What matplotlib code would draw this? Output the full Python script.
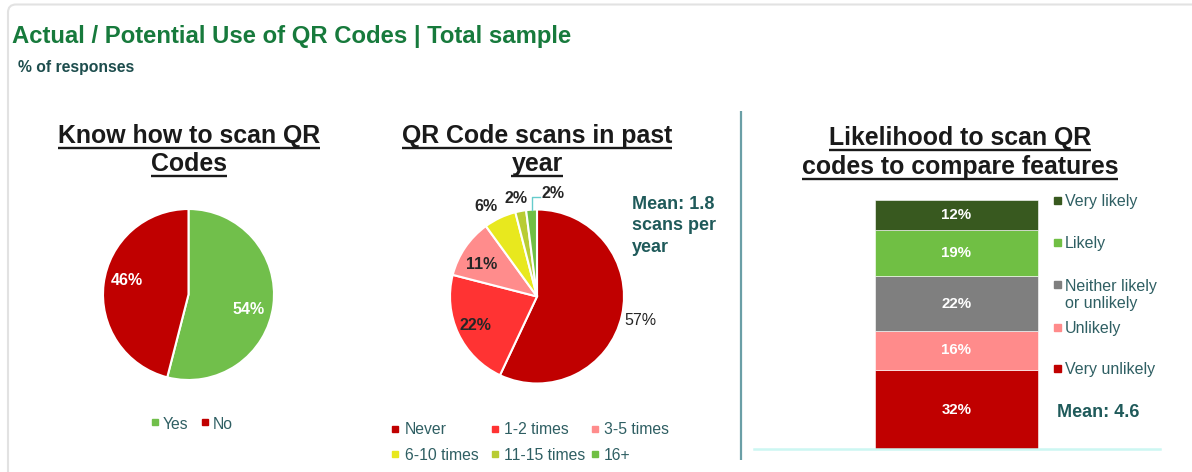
import matplotlib
matplotlib.use("Agg")
import matplotlib.pyplot as plt
from matplotlib.patches import FancyBboxPatch, Rectangle

plt.rcParams['font.family'] = ['Liberation Sans', 'DejaVu Sans']

# ---------------- data ----------------
know_labels = ["Yes", "No"]
know_values = [54, 46]

scan_labels = ["Never", "1-2 times", "3-5 times", "6-10 times", "11-15 times", "16+"]
scan_values = [57, 22, 11, 6, 2, 2]

like_labels = ["Very unlikely", "Unlikely", "Neither likely\nor unlikely", "Likely", "Very likely"]
like_values = [32, 16, 22, 19, 12]

scan_mean = "Mean: 1.8\nscans per\nyear"
like_mean = "Mean: 4.6"

# ---------------- styles ----------------
know_colors = ["#71bf4b", "#c00000"]
scan_colors = ["#c00000", "#ff3333", "#ff8c8c", "#e8e81e", "#b8cc33", "#70bf44"]
like_colors = ["#c00000", "#ff8b8b", "#7f7f7f", "#70bf44", "#38591f"]

TITLE_C = "#177a3c"
SUB_C = "#1d4d4d"
LEG_C = "#2f5f63"
MEAN_C = "#1f5a5a"
DARK = "#262626"

W, H = 1192, 472
fig = plt.figure(figsize=(W / 100, H / 100), dpi=100)
bg = fig.add_axes([0, 0, 1, 1])
bg.set_xlim(0, W)
bg.set_ylim(H, 0)
bg.axis('off')

# card border
bg.add_patch(FancyBboxPatch((8, 4.5), 1250, 520, boxstyle="round,pad=0,rounding_size=8",
                            facecolor='white', edgecolor='#e2e2e2', linewidth=1.5, zorder=0))

bg.text(12, 43.5, "Actual / Potential Use of QR Codes | Total sample", fontsize=17.2,
        fontweight='bold', color=TITLE_C, va='baseline', ha='left')
bg.text(18, 72, "% of responses", fontsize=11.3, fontweight='bold', color=SUB_C,
        va='baseline', ha='left')

# divider
bg.plot([741, 741], [111, 460], color='#6a9fa6', lw=1.6, solid_capstyle='butt')

titles = []


def title_line(x, yb, s):
    t = bg.text(x, yb, s, ha='center', va='baseline', fontsize=17.9, fontweight='bold',
                color='#1a1a1a')
    titles.append((t, yb))


title_line(189, 143, "Know how to scan QR")
title_line(189, 171, "Codes")
title_line(537, 143, "QR Code scans in past")
title_line(537, 171, "year")
title_line(960, 145, "Likelihood to scan QR")
title_line(960, 174, "codes to compare features")


def pie_axes(cx, cy, r, pad=1.25):
    s = 2 * r * pad
    ax = fig.add_axes([(cx - s / 2) / W, (H - cy - s / 2) / H, s / W, s / H])
    return ax


# ---------------- pie 1 ----------------
ax1 = pie_axes(188.5, 294.5, 85.5)
ax1.pie(know_values, colors=know_colors, startangle=90, counterclock=False,
        wedgeprops=dict(edgecolor='white', linewidth=1.5))
ax1.set_xlim(-1.25, 1.25)
ax1.set_ylim(-1.25, 1.25)
ax1.set_aspect('equal')
ax1.axis('off')
know_pos = [(0.70, -0.17), (-0.72, 0.16)]
for v, (dx, dy) in zip(know_values, know_pos):
    ax1.text(dx, dy, f"{v}%", ha='center', va='center', fontsize=11.5, fontweight='bold',
             color='white')

# legend 1
leg1 = [(154.5, 163), (205, 213)]
for (mx, tx), lab, col in zip(leg1, know_labels, know_colors):
    bg.add_patch(Rectangle((mx - 3, 419), 6, 6, color=col))
    bg.text(tx, 429, lab, fontsize=11.3, color=LEG_C, va='baseline', ha='left')

# ---------------- pie 2 ----------------
ax2 = pie_axes(537, 296.5, 87)
ax2.pie(scan_values, colors=scan_colors, startangle=90, counterclock=False,
        wedgeprops=dict(edgecolor='white', linewidth=1.5))
ax2.set_xlim(-1.25, 1.25)
ax2.set_ylim(-1.25, 1.25)
ax2.set_aspect('equal')
ax2.axis('off')
scan_pos = [(1.19, -0.28), (-0.71, -0.33), (-0.64, 0.37), (-0.59, 1.03), (-0.24, 1.13), (0.18, 1.18)]
scan_weight = ['normal', 'bold', 'bold', 'bold', 'bold', 'bold']
for v, (dx, dy), fw in zip(scan_values, scan_pos, scan_weight):
    ax2.text(dx, dy, f"{v}%", ha='center', va='center', fontsize=11.5, fontweight=fw,
             color=DARK, clip_on=False)
ax2.plot([-0.06, -0.06, 0.03], [1.0, 1.14, 1.14], color='#66cccc', lw=1.0, clip_on=False)

for i, line in enumerate(scan_mean.split("\n")):
    bg.text(632, 209 + i * 21.5, line, fontsize=13, fontweight='bold', color=MEAN_C,
            va='baseline', ha='left')

# legend 2 (row-major)
col_m = [395, 495, 595]
col_t = [405, 504, 604]
row_y = [(429, 434), (454, 460)]
for i, (lab, col) in enumerate(zip(scan_labels, scan_colors)):
    r, c = divmod(i, 3)
    my, ty = row_y[r]
    bg.add_patch(Rectangle((col_m[c] - 3, my - 3), 6, 6, color=col))
    bg.text(col_t[c], ty, lab, fontsize=11.3, color=LEG_C, va='baseline', ha='left')

# ---------------- stacked bar ----------------
bx0, bx1, by0, by1 = 754, 1160, 200, 449
ax3 = fig.add_axes([bx0 / W, (H - by1) / H, (bx1 - bx0) / W, (by1 - by0) / H])
ax3.set_xlim(0, 1)
ax3.set_ylim(0, sum(like_values))
bottom = 0
bar_x = (956.5 - bx0) / (bx1 - bx0)
bar_w = 163 / (bx1 - bx0)
for v, col in zip(like_values, like_colors):
    ax3.bar(bar_x, v, bottom=bottom, width=bar_w, color=col, edgecolor='white', linewidth=0.4)
    ax3.text(bar_x, bottom + v / 2, f"{v}%", ha='center', va='center', fontsize=10.8,
             fontweight='bold', color='white')
    bottom += v
for s in ['top', 'left', 'right']:
    ax3.spines[s].set_visible(False)
ax3.spines['bottom'].set_color('#ccf7f2')
ax3.spines['bottom'].set_linewidth(1.8)
ax3.set_xticks([])
ax3.set_yticks([])
ax3.patch.set_alpha(0)

# legend 3 (top to bottom)
leg3 = [  # (marker center y, baseline y)
    (200, 206), (242, 248), (284, 291), (327, 333), (368, 374)
]
for (my, ty), lab, col in zip(leg3, like_labels[::-1], like_colors[::-1]):
    bg.add_patch(Rectangle((1054, my - 3.5), 7, 7, color=col))
    for j, ln in enumerate(lab.split("\n")):
        bg.text(1065, ty + j * 17, ln, fontsize=11.5, color=LEG_C, va='baseline', ha='left')
bg.text(1057, 417, like_mean, fontsize=13, fontweight='bold', color=MEAN_C,
        va='baseline', ha='left')

# underline titles
fig.canvas.draw()
rend = fig.canvas.get_renderer()
for t, yb in titles:
    bb = t.get_window_extent(rend)
    bg.plot([bb.x0, bb.x1], [yb + 4.5, yb + 4.5], color='#1a1a1a', lw=1.7,
            solid_capstyle='butt')

fig.savefig("out.png", dpi=100, facecolor='white')
